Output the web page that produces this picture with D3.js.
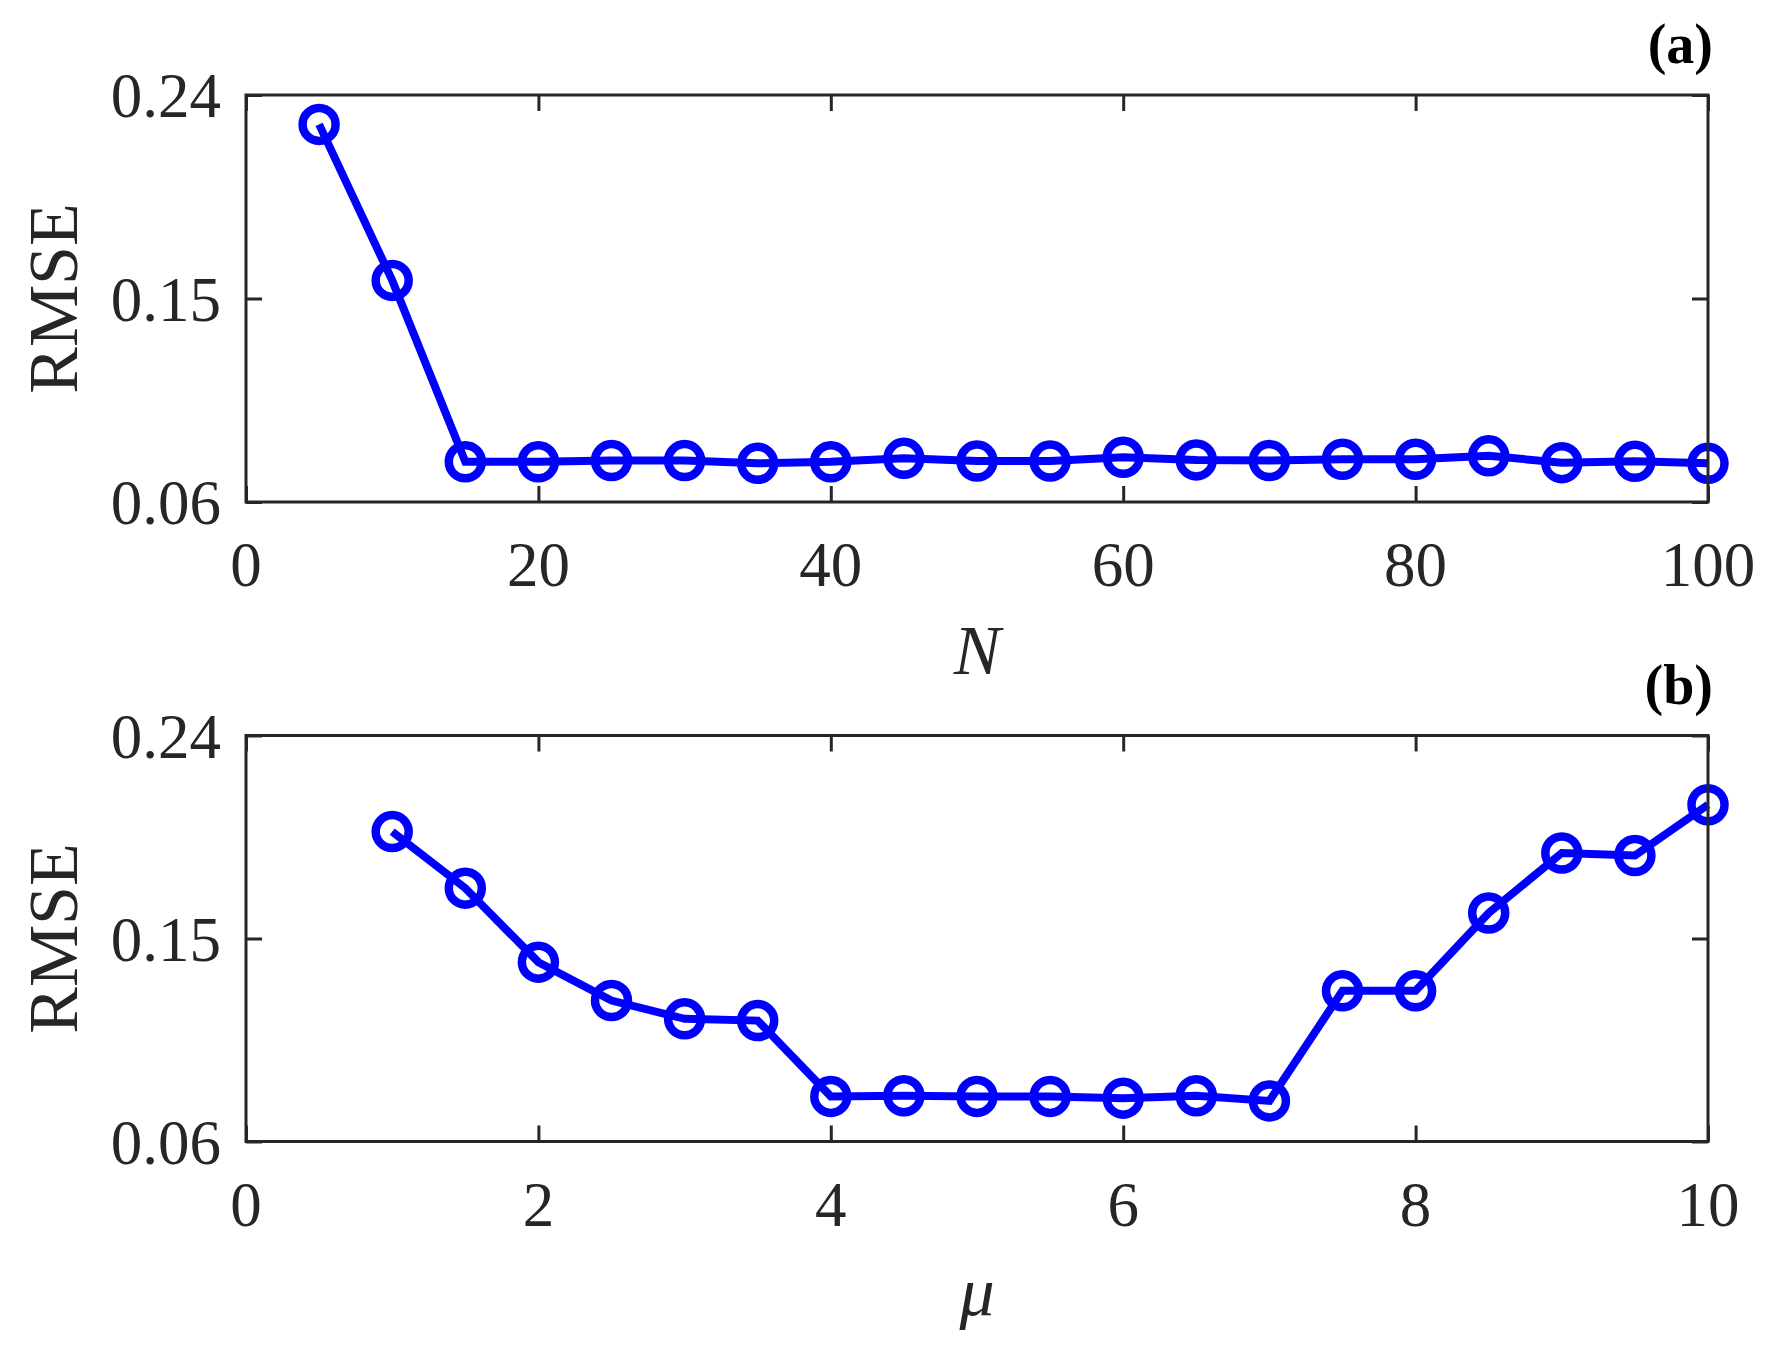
<!DOCTYPE html>
<html>
<head>
<meta charset="utf-8">
<script src="https://cdn.jsdelivr.net/npm/d3@7"></script>
<style>
  html, body { margin: 0; padding: 0; background: #fff; }
  svg { display: block; }
  text { font-family: "Liberation Serif", "Times New Roman", serif; fill: #262626; }
</style>
</head>
<body>
<svg id="chart" width="1779" height="1358"></svg>
<script>
// ---- Data ----
const nValues = [5, 10, 15, 20, 25, 30, 35, 40, 45, 50, 55, 60, 65, 70, 75, 80, 85, 90, 95, 100];
const rmseN = [0.227, 0.158, 0.0778, 0.0778, 0.0783, 0.0783, 0.0771, 0.0778, 0.0793, 0.0781,
               0.0781, 0.0798, 0.0786, 0.0783, 0.0789, 0.0789, 0.0804, 0.0774, 0.0780, 0.0771];
const muValues = [1, 1.5, 2, 2.5, 3, 3.5, 4, 4.5, 5, 5.5, 6, 6.5, 7, 7.5, 8, 8.5, 9, 9.5, 10];
const rmseMu = [0.1974, 0.1723, 0.1395, 0.1225, 0.1144, 0.1136, 0.0800, 0.0803, 0.0800, 0.0800,
                0.0792, 0.0803, 0.0780, 0.1268, 0.1268, 0.1613, 0.1879, 0.1868, 0.2093];
const xTicksA = [0, 20, 40, 60, 80, 100];
const xTicksB = [0, 2, 4, 6, 8, 10];
const yTicks = [0.06, 0.15, 0.24];
const yTickLabels = ["0.06", "0.15", "0.24"];

const svg = d3.select("#chart");
const axisColor = "#262626";
const blue = "#0000ff";

const left = 246, right = 1708;

function drawPanel(cfg) {
  const x = d3.scaleLinear().domain(cfg.xDomain).range([left, right]);
  const y = d3.scaleLinear().domain([0.06, 0.24]).range([cfg.bottom, cfg.top]);
  const g = svg.append("g");

  // data line
  const line = d3.line().x((d, i) => x(cfg.xs[i])).y(d => y(d));
  g.append("path")
    .datum(cfg.ys)
    .attr("d", line)
    .attr("fill", "none")
    .attr("stroke", blue)
    .attr("stroke-width", 8)
    .attr("stroke-linejoin", "miter");

  g.selectAll("circle.m")
    .data(cfg.ys)
    .enter().append("circle")
    .attr("class", "m")
    .attr("cx", (d, i) => x(cfg.xs[i]))
    .attr("cy", d => y(d))
    .attr("r", 16.5)
    .attr("fill", "none")
    .attr("stroke", blue)
    .attr("stroke-width", 8.5);

  // axes (inward ticks, box)
  const tickLen = 16;
  const gb = g.append("g").attr("transform", `translate(0,${cfg.bottom})`).call(d3.axisBottom(x).tickValues(cfg.xTicks).tickSize(-tickLen).tickFormat(""));
  const gt = g.append("g").attr("transform", `translate(0,${cfg.top})`).call(d3.axisTop(x).tickValues(cfg.xTicks).tickSize(-tickLen).tickFormat(""));
  const gl = g.append("g").attr("transform", `translate(${left},0)`).call(d3.axisLeft(y).tickValues(yTicks).tickSize(-tickLen).tickFormat(""));
  const gr = g.append("g").attr("transform", `translate(${right},0)`).call(d3.axisRight(y).tickValues(yTicks).tickSize(-tickLen).tickFormat(""));
  [gb, gt, gl, gr].forEach(a => {
    a.selectAll("path.domain").remove();
    a.selectAll("line").attr("stroke", axisColor).attr("stroke-width", 3);
  });

  // frame
  g.append("rect")
    .attr("x", left).attr("y", cfg.top)
    .attr("width", right - left).attr("height", cfg.bottom - cfg.top)
    .attr("fill", "none").attr("stroke", axisColor).attr("stroke-width", 3);

  // x tick labels
  g.selectAll("text.xt")
    .data(cfg.xTicks)
    .enter().append("text")
    .attr("class", "xt")
    .attr("x", d => x(d))
    .attr("y", cfg.bottom + 84)
    .attr("text-anchor", "middle")
    .attr("font-size", 63)
    .text(d => d);

  // y tick labels
  g.selectAll("text.yt")
    .data(yTicks)
    .enter().append("text")
    .attr("class", "yt")
    .attr("x", 221)
    .attr("y", d => y(d) + 22)
    .attr("text-anchor", "end")
    .attr("font-size", 63)
    .text((d, i) => yTickLabels[i]);

  // y label
  g.append("text")
    .attr("transform", `translate(77,${(cfg.top + cfg.bottom) / 2}) rotate(-90)`)
    .attr("text-anchor", "middle")
    .attr("font-size", 70)
    .text("RMSE");

  // x label
  g.append("text")
    .attr("x", (left + right) / 2)
    .attr("y", cfg.xLabelY)
    .attr("text-anchor", "middle")
    .attr("font-size", 70)
    .attr("font-style", "italic")
    .text(cfg.xLabel);

  // panel label
  g.append("text")
    .attr("x", 1713)
    .attr("y", cfg.top - 32)
    .attr("text-anchor", "end")
    .attr("font-size", 56)
    .attr("font-weight", "bold")
    .style("fill", "#000")
    .text(cfg.panel);
}

drawPanel({
  xs: nValues, ys: rmseN, xDomain: [0, 100], xTicks: xTicksA,
  top: 95, bottom: 502, xLabel: "N", xLabelY: 674, panel: "(a)"
});
drawPanel({
  xs: muValues, ys: rmseMu, xDomain: [0, 10], xTicks: xTicksB,
  top: 735.5, bottom: 1141.5, xLabel: "μ", xLabelY: 1315, panel: "(b)"
});
</script>
</body>
</html>
